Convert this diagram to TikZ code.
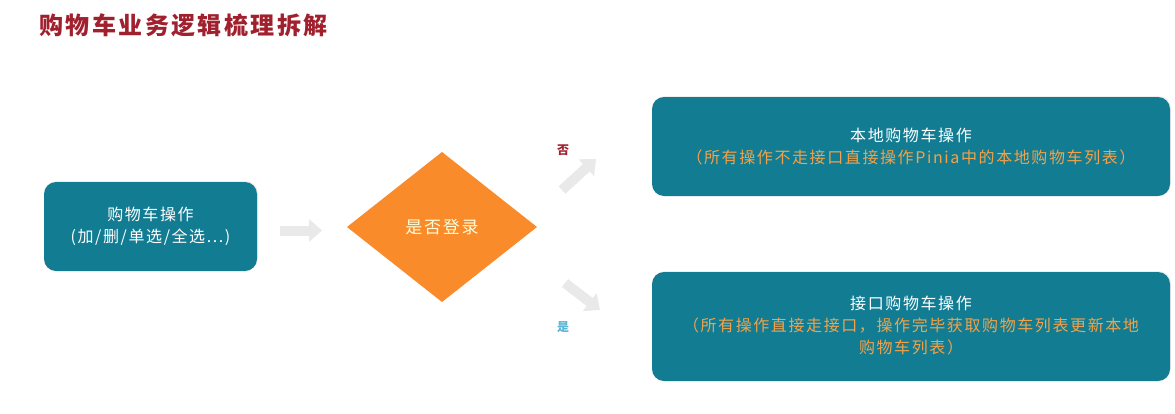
\documentclass[tikz,border=0pt]{standalone}
\usepackage{fontspec}
\setmainfont{Noto Sans CJK SC}[LetterSpace=10]
\usetikzlibrary{arrows.meta,shadows}
\definecolor{teal1}{HTML}{127C92}
\definecolor{orangeD}{HTML}{F98B2A}
\definecolor{orangeT}{HTML}{F2A24A}
\definecolor{titlered}{HTML}{A0202E}
\definecolor{yesblue}{HTML}{5BB5D5}
\definecolor{arrowgray}{HTML}{E9E9E9}
\tikzset{
  box/.style={fill=teal1, rounded corners=12pt, draw=none, drop shadow={opacity=0.12, shadow xshift=1pt, shadow yshift=1pt}},
  boxtext/.style={text=white, align=center, font=\fontsize{16}{22}\selectfont},
  fat/.style={draw=arrowgray, line width=10pt, -{Triangle[length=13pt,width=22pt]}},
  lbl/.style={font=\fontsize{12}{14}\selectfont\bfseries}
}
\newcommand{\ot}[1]{\textcolor{orangeT}{#1}}
\begin{document}
\begin{tikzpicture}[x=1pt,y=-1pt]
\useasboundingbox[fill=white] (0,0) rectangle (1175,413);
% title
\node[anchor=west, text=titlered, font=\fontsize{24}{28}\selectfont\bfseries] (title) at (36,25) {购物车业务逻辑梳理拆解};
% left box
\path[box] (44,182) rectangle (257,271);
\node[boxtext] (start) at (150.5,226) {购物车操作\\(加/删/单选/全选...)};
% diamond
\path[fill=orangeD] (347,227) -- (442,152) -- (537,227) -- (442,302) -- cycle;
\node[text=white!85!yellow, font=\fontsize{17}{20}\selectfont] (login) at (442,227) {是否登录};
% right boxes
\path[box] (652,97) rectangle (1170,196);
\node[boxtext] (local) at (911,147) {本地购物车操作\\\ot{（所有操作不走接口直接操作Pinia中的本地购物车列表）}};
\path[box] (652,272) rectangle (1170,381);
\node[boxtext] (api) at (911,326) {接口购物车操作\\\ot{（所有操作直接走接口，操作完毕获取购物车列表更新本地}\\\ot{购物车列表）}};
% arrows
\coordinate (a1s) at (280,230.5);
\coordinate (a1e) at (322,230.5);
\draw[fat] (a1s) -- (a1e);
\coordinate (a2s) at (562,190);
\coordinate (a2e) at (596,159);
\draw[fat] (a2s) -- (a2e);
\coordinate (a3s) at (565,283);
\coordinate (a3e) at (600,310);
\draw[fat] (a3s) -- (a3e);
% labels
\node[lbl, text=titlered] (no) at (563,150) {否};
\node[lbl, text=yesblue] (yes) at (563,327) {是};
\end{tikzpicture}
\end{document}
